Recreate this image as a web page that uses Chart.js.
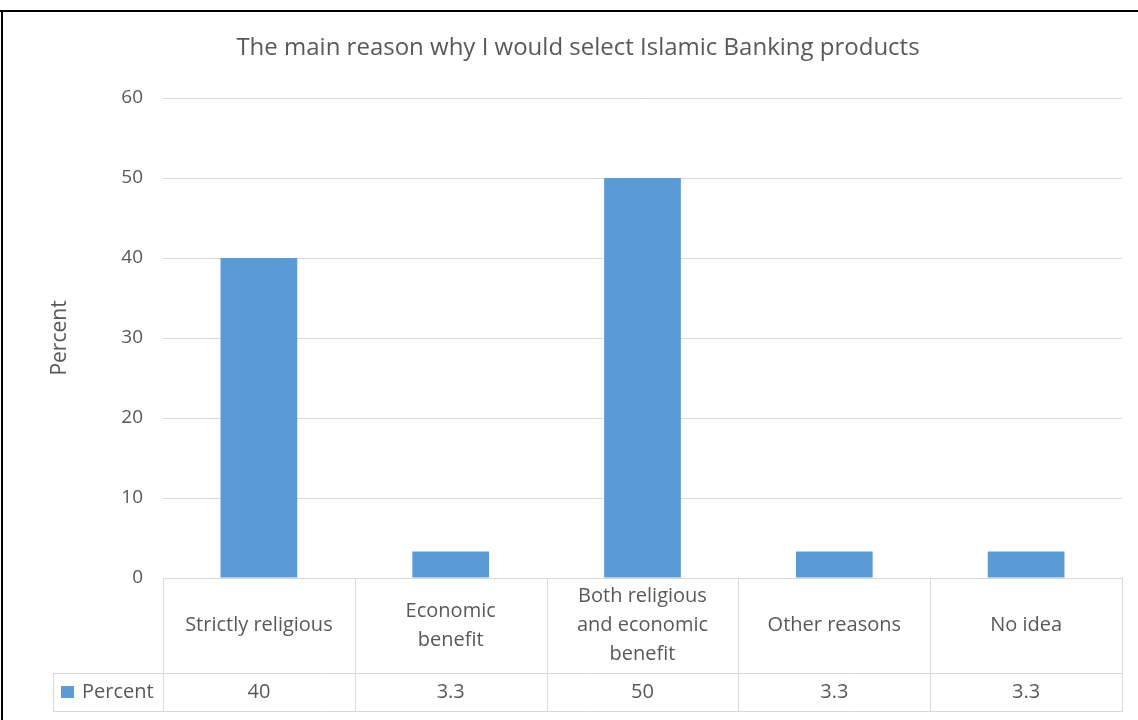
<!DOCTYPE html>
<html lang="en">
<head>
  <meta charset="UTF-8">
  <title>Islamic Banking products</title>
  <script src="https://cdn.jsdelivr.net/npm/chart.js"></script>
  <style>
    body {
      margin: 0;
      padding: 0;
      background: #fff;
    }
    canvas {
      display: block;
    }
  </style>
</head>
<body>
  <canvas id="chart" width="1138" height="720"></canvas>

  <script>
    const categories = [
      ["Strictly religious"],
      ["Economic", "benefit"],
      ["Both religious", "and economic", "benefit"],
      ["Other reasons"],
      ["No idea"]
    ];
    const seriesName = "Percent";
    const percentValues = [40, 3.3, 50, 3.3, 3.3];
    const yMin = 0;
    const yMax = 60;
    const yStep = 10;

    const textColor = "#595959";
    const lineColor = "#d9d9d9";
    const barColor = "#5b9bd5";
    const fontFamily = '"Open Sans", "Noto Sans", sans-serif';

    // draws the Excel style data table under the plot + the outer frame
    const dataTable = {
      id: "dataTable",
      beforeDraw(chart) {
        const ctx = chart.ctx;
        ctx.save();
        ctx.fillStyle = "#fff";
        ctx.fillRect(0, 0, chart.width, chart.height);
        ctx.restore();
      },
      afterDraw(chart) {
        const ctx = chart.ctx;
        const x = chart.scales.x;
        const area = chart.chartArea;
        const n = categories.length;
        const colW = (x.right - x.left) / n;
        const top = Math.round(area.bottom);
        const mid = top + 95;
        const bottom = mid + 38;
        const legendLeft = 53;

        ctx.save();
        ctx.strokeStyle = lineColor;
        ctx.lineWidth = 1;
        ctx.beginPath();
        ctx.moveTo(x.left, top + 0.5);
        ctx.lineTo(x.right, top + 0.5);
        ctx.moveTo(legendLeft, mid + 0.5);
        ctx.lineTo(x.right, mid + 0.5);
        ctx.moveTo(legendLeft, bottom + 0.5);
        ctx.lineTo(x.right, bottom + 0.5);
        for (let i = 0; i <= n; i++) {
          const vx = Math.round(x.left + colW * i) + 0.5;
          ctx.moveTo(vx, top);
          ctx.lineTo(vx, bottom + 1);
        }
        ctx.moveTo(legendLeft + 0.5, mid);
        ctx.lineTo(legendLeft + 0.5, bottom + 1);
        ctx.stroke();

        ctx.fillStyle = textColor;
        ctx.font = "20px " + fontFamily;
        ctx.textAlign = "center";
        ctx.textBaseline = "middle";
        const lineH = 29;
        const rowCenter = (top + mid) / 2;
        const valCenter = (mid + bottom) / 2;
        categories.forEach((lines, i) => {
          const cx = x.getPixelForValue(i);
          const y0 = rowCenter - (lines.length - 1) * lineH / 2;
          lines.forEach((t, k) => ctx.fillText(t, cx, y0 + k * lineH));
          ctx.fillText(String(percentValues[i]), cx, valCenter);
        });

        // legend key
        ctx.fillStyle = barColor;
        ctx.fillRect(61, Math.round(valCenter) - 6, 13, 12);
        ctx.fillStyle = textColor;
        ctx.textAlign = "left";
        ctx.fillText(seriesName, 82, valCenter);

        // outer frame
        ctx.fillStyle = "#000";
        ctx.fillRect(0, 10, chart.width, 2);
        ctx.fillRect(1, 10, 2, chart.height - 10);
        ctx.restore();
      }
    };

    const ctx = document.getElementById("chart").getContext("2d");
    new Chart(ctx, {
      type: "bar",
      data: {
        labels: categories,
        datasets: [{
          label: seriesName,
          data: percentValues,
          backgroundColor: barColor,
          barPercentage: 0.4,
          categoryPercentage: 1.0
        }]
      },
      options: {
        responsive: false,
        animation: false,
        devicePixelRatio: 1,
        layout: {
          padding: { left: 34, right: 16, top: 0, bottom: 0 }
        },
        plugins: {
          legend: { display: false },
          tooltip: { enabled: false },
          title: {
            display: true,
            text: "The main reason why I would select Islamic Banking products",
            color: textColor,
            font: { family: fontFamily, size: 24, weight: "normal" },
            padding: { top: 34, bottom: 35.2 }
          }
        },
        scales: {
          x: {
            grid: { display: false },
            border: { display: false },
            ticks: { display: false },
            afterFit(scale) {
              scale.height = 142;
            }
          },
          y: {
            min: yMin,
            max: yMax,
            ticks: {
              stepSize: yStep,
              color: textColor,
              padding: 20,
              font: { family: fontFamily, size: 19 }
            },
            grid: { color: lineColor, drawTicks: false },
            border: { display: false },
            title: {
              display: true,
              text: "Percent",
              color: textColor,
              font: { family: fontFamily, size: 21 },
              padding: { top: 13, bottom: 0 }
            },
            afterFit(scale) {
              scale.width = 129;
            }
          }
        }
      },
      plugins: [dataTable]
    });
  </script>
</body>
</html>
